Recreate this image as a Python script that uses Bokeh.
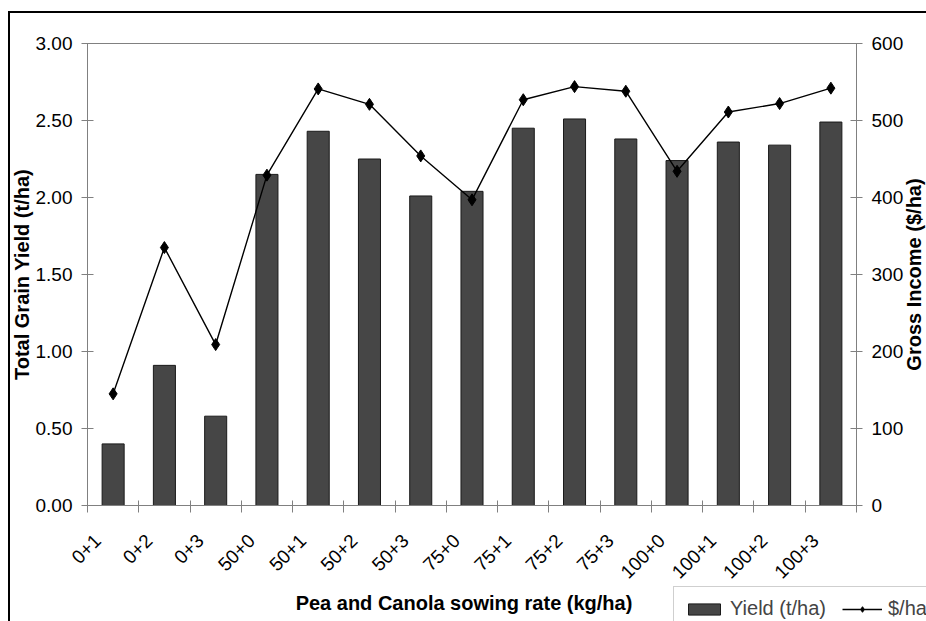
from bokeh.plotting import figure
from bokeh.models import (LinearAxis, Range1d, FixedTicker, NumeralTickFormatter,
                          Legend, LegendItem, ColumnDataSource)
from bokeh.embed import file_html
from bokeh.resources import INLINE
import math

# Sowing-rate treatments (pea + canola, kg/ha)
categories = ["0+1", "0+2", "0+3", "50+0", "50+1", "50+2", "50+3", "75+0",
              "75+1", "75+2", "75+3", "100+0", "100+1", "100+2", "100+3"]
# Total grain yield (t/ha)
yield_tha = [0.40, 0.91, 0.58, 2.15, 2.43, 2.25, 2.01, 2.04,
             2.45, 2.51, 2.38, 2.24, 2.36, 2.34, 2.49]
# Gross income ($/ha)
income = [145, 335, 209, 429, 541, 521, 454, 397,
          527, 544, 538, 434, 511, 522, 542]

yield_ticks = [0, 0.5, 1.0, 1.5, 2.0, 2.5, 3.0]
income_ticks = [0, 100, 200, 300, 400, 500, 600]
yield_max, income_max = 3.0, 600.0

FONT = "Liberation Sans"
AXIS_GREY = "#808080"
W, H = 926, 621
# plot-area edges on the canvas (pixels)
AREA_L, AREA_R, AREA_T, AREA_B = 87, 856, 43, 505
RIGHT_TITLE_X = 924   # right edge of the right-hand axis title

n = len(categories)
centers = [i + 0.5 for i in range(n)]
bounds = list(range(n + 1))
# rotated labels sit slightly left of the bar centres
label_pos = [c - 0.3 for c in centers]
src = ColumnDataSource(dict(x=centers, cat=categories, yld=yield_tha, inc=income))

# The whole canvas is the frame; axes are pinned to the plot-area edges so the
# legend and axis titles around the plot area are never clipped.
px_x = (AREA_R - AREA_L) / n
px_y = (AREA_B - AREA_T) / yield_max
x0, x1 = -AREA_L / px_x, n + (W - AREA_R) / px_x
y0, y1 = -(H - AREA_B) / px_y, yield_max + AREA_T / px_y
k = income_max / yield_max

p = figure(width=W, height=H, output_backend="svg", toolbar_location=None,
           x_range=Range1d(x0, x1), y_range=Range1d(y0, y1),
           x_axis_location=None, y_axis_location=None)
p.min_border = 0
p.outline_line_color = None
p.grid.visible = False
p.background_fill_color = None
p.border_fill_color = None
# outer chart frame (top and left edges) painted behind the canvas
p.styles = {
    "background-color": "white",
    "background-image": "linear-gradient(#000, #000), linear-gradient(#000, #000)",
    "background-size": "2px 100%, 100% 2px",
    "background-position": "8px 11px, 8px 11px",
    "background-repeat": "no-repeat",
}

p.extra_y_ranges = {"income": Range1d(y0 * k, y1 * k)}

# Bars: yield
bars = p.vbar(x="x", top="yld", width=0.43, source=src,
              fill_color="#464646", line_color="#1a1a1a", line_width=1)

# Line + diamonds: gross income
ln = p.line(x="x", y="inc", source=src, y_range_name="income",
            line_color="black", line_width=1.4)
pts = p.scatter(x="x", y="inc", source=src, y_range_name="income",
                marker="diamond", size=12, fill_color="black", line_color="black")

def style_axis(ax):
    ax.axis_line_color = AXIS_GREY
    ax.major_tick_line_color = AXIS_GREY
    ax.minor_tick_line_color = AXIS_GREY
    ax.major_label_text_font = FONT
    ax.major_label_text_font_size = "19px"
    ax.major_label_text_color = "black"
    ax.axis_label_text_font = FONT
    ax.axis_label_text_font_size = "20px"
    ax.axis_label_text_font_style = "bold"
    ax.axis_label_text_color = "black"

def bare(ax):
    # an axis that only carries its title
    ax.axis_line_color = None
    ax.ticker = FixedTicker(ticks=[], minor_ticks=[])
    ax.major_tick_in = 0
    ax.major_tick_out = 0
    ax.major_label_text_font_size = "0px"
    ax.major_label_standoff = 0

# Bottom axis: labels under the bars, ticks at category boundaries
xa = LinearAxis(fixed_location=0, bounds=(0, n))
style_axis(xa)
xa.ticker = FixedTicker(ticks=label_pos, minor_ticks=bounds)
xa.major_label_overrides = {c: lab for c, lab in zip(label_pos, categories)}
xa.major_tick_in = 0
xa.major_tick_out = 0
xa.minor_tick_in = 5
xa.minor_tick_out = 7
xa.major_label_orientation = math.pi / 4
xa.major_label_standoff = 25
p.add_layout(xa, "below")

# Bottom title, a little left of centre
xt = LinearAxis(fixed_location=0, bounds=(-0.16, n - 0.16),
                axis_label="Pea and Canola sowing rate (kg/ha)")
style_axis(xt)
bare(xt)
xt.axis_label_standoff = 86
p.add_layout(xt, "below")

# Top edge of the plot area
ta = LinearAxis(fixed_location=yield_max, bounds=(0, n))
ta.axis_line_color = AXIS_GREY
ta.ticker = FixedTicker(ticks=[], minor_ticks=[])
ta.major_label_text_font_size = "0px"
p.add_layout(ta, "above")

# Left axis: yield
ya = LinearAxis(fixed_location=0, bounds=(0, yield_max),
                axis_label="Total Grain Yield (t/ha)")
style_axis(ya)
ya.ticker = FixedTicker(ticks=yield_ticks, minor_ticks=[])
ya.formatter = NumeralTickFormatter(format="0.00")
ya.major_tick_in = 6
ya.major_tick_out = 6
ya.major_label_standoff = 9
ya.axis_label_standoff = 0
p.add_layout(ya, "left")

# Right axis: income
ra = LinearAxis(y_range_name="income", fixed_location=n, bounds=(0, income_max))
style_axis(ra)
ra.ticker = FixedTicker(ticks=income_ticks, minor_ticks=[])
ra.major_tick_in = 6
ra.major_tick_out = 6
ra.major_label_standoff = 9
p.add_layout(ra, "right")

# Right-hand title, reading bottom to top like the left one
rt = LinearAxis(fixed_location=n + (RIGHT_TITLE_X - AREA_R) / px_x,
                bounds=(0, yield_max), axis_label="Gross Income ($/ha)")
style_axis(rt)
bare(rt)
rt.axis_label_standoff = 0
p.add_layout(rt, "left")

# Legend below the plot area, at the right
legend = Legend(items=[LegendItem(label="Yield (t/ha)", renderers=[bars]),
                       LegendItem(label="$/ha", renderers=[ln, pts])],
                orientation="horizontal", location=(673, -10),
                glyph_width=40, glyph_height=14, label_standoff=6, spacing=16,
                padding=10, margin=0,
                label_text_font=FONT, label_text_font_size="20px",
                border_line_color="#a0a0a0", border_line_width=1,
                background_fill_color="white", background_fill_alpha=1)
p.add_layout(legend, "center")

open("out.html", "w").write(file_html(p, INLINE))
